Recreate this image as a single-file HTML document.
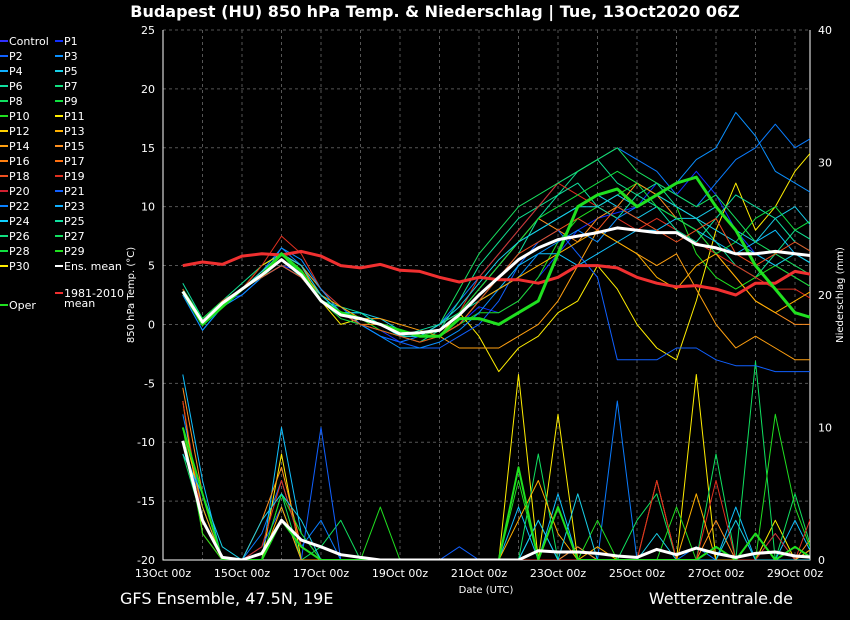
<!DOCTYPE html>
<html><head><meta charset="utf-8">
<style>
body{margin:0;background:#000;width:850px;height:620px;overflow:hidden;font-family:"DejaVu Sans","Liberation Sans",sans-serif;color:#fff}
svg{display:block}
text{font-family:"DejaVu Sans","Liberation Sans",sans-serif;fill:#fff}
</style></head>
<body>
<svg id="chart" width="850" height="620">
<text x="435" y="17" font-size="16" font-weight="bold" text-anchor="middle">Budapest  (HU)  850 hPa Temp. &amp; Niederschlag | Tue, 13Oct2020 06Z</text>
<text x="120" y="604" font-size="16">GFS Ensemble, 47.5N, 19E</text>
<text x="793" y="604" font-size="16" text-anchor="end">Wetterzentrale.de</text>
<text x="486" y="593" font-size="10" text-anchor="middle">Date (UTC)</text>
<text transform="translate(134,295) rotate(-90)" font-size="10" text-anchor="middle">850 hPa Temp. (°C)</text>
<text transform="translate(843,295) rotate(-90)" font-size="10" text-anchor="middle">Niederschlag (mm)</text>
<defs><clipPath id="plotclip"><rect x="163" y="30" width="647" height="530"/></clipPath></defs>
<g id="grid"></g><g id="axes"></g><g id="series" clip-path="url(#plotclip)"></g><g id="legend"></g>
</svg>
<script>
const times=[12,24,36,48,60,72,84,96,108,120,132,144,156,168,180,192,204,216,228,240,252,264,276,288,300,312,324,336,348,360,372,384,396];
const xTickLabels=["13Oct 00z","15Oct 00z","17Oct 00z","19Oct 00z","21Oct 00z","23Oct 00z","25Oct 00z","27Oct 00z","29Oct 00z"];
const yTicksLeft=[25,20,15,10,5,0,-5,-10,-15,-20];
const yTicksRight=[0,10,20,30,40];
const ensMean=[2.8,0.2,1.8,3,4.2,5.5,4.2,2,0.8,0.5,0,-0.8,-0.7,-0.5,0.8,2.5,4,5.5,6.5,7.2,7.5,7.8,8.2,8,7.8,7.8,6.8,6.5,6,6,6.2,6,5.8];
const climMean=[5,5.3,5.1,5.8,6,5.9,6.2,5.8,5,4.8,5.1,4.6,4.5,4,3.6,4,3.8,3.8,3.5,4,5,5,4.8,4,3.5,3.2,3.3,3,2.5,3.5,3.5,4.5,4.2];
const operTemp=[2.8,0,1.5,3,4.2,6,4.5,2,1,0.5,0,-0.5,-1,-1,0.5,0.5,0,1,2,6,10,11,11.5,10,11,12,12.5,10,8,5,3,1,0.5];
const ensMeanPrecip=[9,3,0.2,0,0.5,3,1.5,1,0.4,0.2,0,0,0,0,0,0,0,0,0.7,0.6,0.6,0.5,0.3,0.2,0.8,0.4,0.9,0.5,0.2,0.5,0.6,0.3,0.2];
const operPrecip=[10,5,0,0,0,3,1,0,0,0,0,0,0,0,0,0,0,7,0,4,0,0,0,0,0,0,0,1,0,2,0,1,0];
const memberTemps=[
[3,0,2,2.5,4,5,4.5,2.5,1,0,-0.5,-1.5,-1,-1,0,1.5,1,2,4,6,8,9,9.5,10,12,11,13,11,8,6,5,4,3],
[2.5,-0.5,1.5,3,4.5,6.5,5,3,1.5,0,-1,-1.5,-1,0,2,4,6,8,10,12,13,14,15,14,13,11,10,12,14,15,17,15,16],
[3,0,2,3,4,5,4,2,1,1,0.5,-0.5,-1,-1,1,3,5,7,8,9,10,11,10,9,10,9,9,10,8,7,9,10,8],
[3,0.5,2,3.5,5,6,5,2.5,1,1,0,-1,-1.5,-0.5,2,5,7,9,10,11,13,14,12,11,12,10,9,7,5,4,6,8,7],
[2.5,0,1.5,3,4,6,4,2,1,0.5,-0.5,-1,-1.5,-1,0,1,1,2,4,7,9,10,11,12,11,10,6,4,3,4,5,4,3],
[3,0.5,2,3,5,6,4.5,2,0,0.5,0,-1,-1,-1,1,-1,-4,-2,-1,1,2,5,3,0,-2,-3,2,8,12,8,10,13,15],
[3,0,2,3,4,6,5,3,1,0.5,0.5,0,-0.5,-1,-2,-2,-2,-1,0,2,5,8,7,6,5,6,3,0,-2,-1,-2,-3,-3],
[2.5,0,1.5,3,4,6,5,2,1,0,0,-1,-1,0,1,3,5,7,9,8,7,9,10,12,11,9,8,6,4,2,1,0,0],
[3,0,2,3,5,7.5,6,3,1.5,0.5,0,-1,-1,-0.5,1,4,6,8,10,12,11,10,9,8,9,8,7,6,5,4,3,3,2],
[3,0,1.5,2.5,4,5,4,2,1,0,-1,-1.5,-2,-2,-1,0,2,5,7,8,6,4,-3,-3,-3,-2,-2,-3,-3.5,-3.5,-4,-4,-4],
[3,0,2,3,4,5,4,2.5,1,1,0,-1,-1,-1,0,2,3,5,6,6,5,6,7,8,8,9,8,7,6,7,8,6,5],
[3,0,2,3,4.5,6,4.5,2,1,0.5,0,-0.5,-1,0,3,6,8,10,11,12,13,14,15,13,12,11,10,11,9,7,6,5,4],
[3.5,0.5,2,3,4,5.5,4,2,1.5,1,0,-1,-0.5,0,1,2,4,6,9,11,12,10,9,11,10,8,7,9,11,10,9,7,6],
[2.5,-0.5,1.5,2.5,4,6.5,5.5,3,1,0,-1,-2,-2,-1.5,-0.5,1,3,4,6,7,8,7,9,10,11,12,14,15,18,16,13,12,11],
[3,0,1.5,3,4.5,6,4.5,2.5,1.5,0.5,0,-0.5,-1,-1,0,2,3,4,5,6,7,8,7,6,4,3,5,6,4,2,1,2,3],
[3,0.5,2,3,4,5.5,4.5,2,0.5,0,-0.5,-1,-1,-0.5,1,3,5,7,9,10,11,12,13,12,10,9,8,6,7,9,10,8,9],
[2.8,0,1.8,3,4.5,6,5,2.5,1,0.5,0,-1,-1,0,1.5,3.5,5.5,7,8,9,10,10,11,10,11,10,9,8,7,6,5,6,5],
[3,0,2,3,4,5,4,2,1,0,-0.5,-1,-1.5,-1,0,2,4,6,7,8,9,8,10,9,8,7,8,9,6,5,6,7,6]
];
const memberPrecips=[
[11,4,0,0,2,6,1,3,0,0,0,0,0,0,0,0,0,0,3,0,1,0,12,0,0,0,1,0,0,2,0,0,0],
[14,6,0,0,0,10,2,0,0,0,0,0,0,0,0,0,0,4,0,5,0,0,0,0,0,0,0,0,4,0,0,3,0],
[12,2,0,0,0,8,0,0,0,0,0,0,0,0,0,0,0,14,0,11,0,0,0,0,0,0,14,0,0,0,3,0,0],
[8,3,0,0,0,5,0,1,3,0,0,0,0,0,0,0,0,0,8,0,0,0,0,3,5,0,0,8,0,15,0,5,0],
[13,5,0,0,3,7,1,0,0,0,0,0,0,0,0,0,0,0,0,0,1,0,0,0,6,0,0,3,0,0,0,0,2],
[9,4,0,0,1,4,0,10,0,0,0,0,0,0,1,0,0,0,0,0,0,0,0,0,0,0,0,0,0,0,2,0,1],
[10,2,0,0,0,5,2,0,0,0,4,0,0,0,0,0,0,6,0,0,0,3,0,0,0,4,0,0,0,0,11,4,0],
[12,3,0,0,1,6,1,0,0,0,0,0,0,0,0,0,0,0,0,0,0,0,0,0,6,0,0,6,0,0,2,0,4],
[10,4,0,0,0,4,0,0,0,0,0,0,0,0,0,0,0,3,6,2,0,1,0,0,0,0,5,0,0,2,0,0,1],
[8,5,1,0,3,5,3,0,0,0,0,0,0,0,0,0,0,0,3,0,5,0,0,0,2,0,0,0,3,0,0,0,0]
];
const memberColors=["#1030ff","#0a7cff","#18c8e8","#10e090","#20e020","#ffee00","#ffa010","#ff9020","#e03020","#1060ff","#10c0ff","#18e060","#10e0a0","#0a90ff","#ffb000","#10e040","#18d0e8","#f05020"];
const precipColors=["#0a7cff","#10c0ff","#ffee00","#10e060","#ff9020","#1060ff","#20e020","#e03020","#ffb000","#18d0e8"];
const legendLabels=["Control","P1","P2","P3","P4","P5","P6","P7","P8","P9","P10","P11","P12","P13","P14","P15","P16","P17","P18","P19","P20","P21","P22","P23","P24","P25","P26","P27","P28","P29","P30","Ens. mean"];
const legendColors=["#3030ff","#1030ff","#1060ff","#0a90ff","#10b0ff","#18d0e8","#10e0a0","#10e080","#10e060","#10e040","#20e020","#ffee00","#ffd000","#ffb000","#ffa010","#ff9020","#ff8010","#ff7010","#f05020","#e03020","#d02030","#1060ff","#0a80ff","#10b0ff","#10d0ff","#10e0a0","#10e080","#10e060","#10e040","#20e020","#ffee00","#ffffff"];

const NS="http://www.w3.org/2000/svg";
const X0=163,X1=810,Y0=30,Y1=560,PXDAY=39.5;
function xs(t){return X0+t/24*PXDAY;}
function yT(v){return Y0+(25-v)*(Y1-Y0)/45;}
function yP(v){return Y1-v*(Y1-Y0)/40;}
function mk(tag,attrs,parent){const e=document.createElementNS(NS,tag);for(const k in attrs)e.setAttribute(k,attrs[k]);parent.appendChild(e);return e;}
const grid=document.getElementById('grid'),axes=document.getElementById('axes'),ser=document.getElementById('series'),leg=document.getElementById('legend');
for(let d=1;d<=16;d++){const l=mk('line',{x1:xs(d*24),x2:xs(d*24),y1:Y0,y2:Y1,stroke:'#555','stroke-dasharray':'3,3','stroke-width':1},grid);

}
yTicksLeft.forEach(v=>{const l=mk('line',{x1:X0,x2:X1,y1:yT(v),y2:yT(v),stroke:'#555','stroke-dasharray':'3,3','stroke-width':1},grid);


const t=mk('text',{x:X0-8,y:yT(v)+4,'font-size':11,'text-anchor':'end'},axes);t.textContent=v;

});
yTicksRight.forEach(v=>{const t=mk('text',{x:X1+8,y:yP(v)+4,'font-size':11},axes);t.textContent=v;

});
xTickLabels.forEach((s,i)=>{const t=mk('text',{x:xs(i*48),y:577,'font-size':11,'text-anchor':'middle'},axes);t.textContent=s;

});
const ax=mk('path',{d:`M${X0},${Y0}V${Y1}H${X1}V${Y0}`,stroke:'#fff',fill:'none','stroke-width':1},axes);


function line(vals,yf,color,w,name){const d=vals.map((v,i)=>(i?'L':'M')+xs(times[i]).toFixed(1)+','+yf(v).toFixed(1)).join('');
const p=mk('path',{d:d,stroke:color,fill:'none','stroke-width':w,'stroke-linejoin':'round'},ser);

}
memberPrecips.forEach((a,i)=>line(a,yP,precipColors[i],1,'member-precip-line'));
line(operPrecip,yP,'#20e020',2,'oper-precip-line');
line(ensMeanPrecip,yP,'#fff',3,'ens-mean-precip-line');
memberTemps.forEach((a,i)=>line(a,yT,memberColors[i],1,'member-temp-line'));
line(climMean,yT,'#f03030',3,'climate-mean-line');
line(operTemp,yT,'#20e020',3,'oper-temp-line');
line(ensMean,yT,'#fff',3,'ens-mean-temp-line');
legendLabels.forEach((s,i)=>{const col=i%2,row=Math.floor(i/2);const x=col?55:0,y=41+row*15;
const l=mk('line',{x1:x,x2:x+8,y1:y,y2:y,stroke:legendColors[i],'stroke-width':2},leg);


const t=mk('text',{x:x+9,y:y+4,'font-size':11},leg);t.textContent=s;

});
const cl=mk('line',{x1:55,x2:63,y1:293,y2:293,stroke:'#f03030','stroke-width':2},leg);


const ct=mk('text',{x:64,y:297,'font-size':11},leg);ct.textContent='1981-2010';


const ct2=mk('text',{x:64,y:307,'font-size':11},leg);ct2.textContent='mean';


const ol=mk('line',{x1:0,x2:8,y1:305,y2:305,stroke:'#20e020','stroke-width':2},leg);


const ot=mk('text',{x:9,y:309,'font-size':11},leg);ot.textContent='Oper';


</script>
</body></html>
